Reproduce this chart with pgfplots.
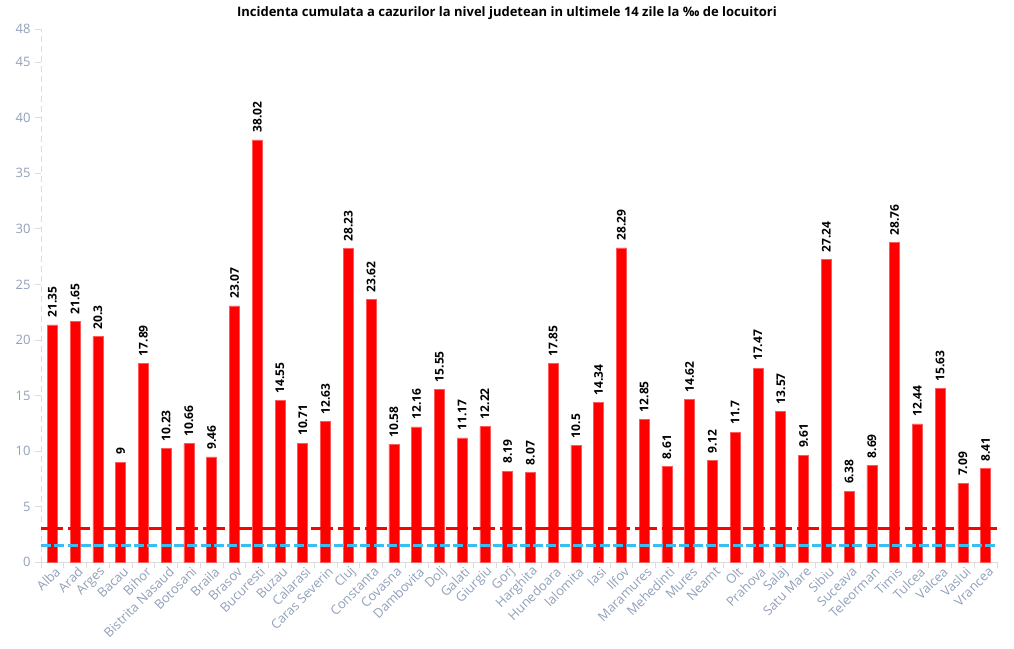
\documentclass[border=0pt]{standalone}
\usepackage{fontspec}
\setmainfont{Open Sans}
\usepackage{pgfplots}
\pgfplotsset{compat=1.18}
\usepackage{pgfplotstable}
\definecolor{tickgray}{RGB}{145,160,185}
\definecolor{axgray}{RGB}{220,220,220}
\definecolor{lineblue}{RGB}{56,190,240}
\definecolor{purered}{RGB}{255,0,0}
\definecolor{edgered}{RGB}{255,90,90}
\pgfplotstableread{
x y
0 21.35
1 21.65
2 20.3
3 9
4 17.89
5 10.23
6 10.66
7 9.46
8 23.07
9 38.02
10 14.55
11 10.71
12 12.63
13 28.23
14 23.62
15 10.58
16 12.16
17 15.55
18 11.17
19 12.22
20 8.19
21 8.07
22 17.85
23 10.5
24 14.34
25 28.29
26 12.85
27 8.61
28 14.62
29 9.12
30 11.7
31 17.47
32 13.57
33 9.61
34 27.24
35 6.38
36 8.69
37 28.76
38 12.44
39 15.63
40 7.09
41 8.41
}\data
\begin{document}
\begin{tikzpicture}
\useasboundingbox (0,0) rectangle (1014pt,648pt);
\node[font=\fontsize{13}{15}\selectfont\bfseries] at (507pt,635pt) {Incidenta cumulata a cazurilor la nivel judetean in ultimele 14 zile la ‰ de locuitori};
\begin{axis}[
  at={(41pt,86pt)}, anchor=south west,
  scale only axis, width=956pt, height=533pt,
  xmin=-0.5, xmax=41.5, ymin=0, ymax=48,
  /pgf/number format/assume math mode=true,
  axis x line*=bottom, axis y line*=left,
  x axis line style={axgray, line width=0.8pt, -},
  y axis line style={axgray, line width=1pt, dash pattern=on 6pt off 4pt, -},
  ytick={0,5,10,15,20,25,30,35,40,45,48},
  yticklabel style={font=\fontsize{13}{15}\selectfont, text=tickgray, xshift=-1pt},
  ytick style={draw=axgray, line width=0.8pt},
  major tick length=6pt,
  tick align=outside,
  xtick={-0.5,0.5,...,41.5},
  xticklabels={},
  xtick style={draw=axgray, line width=0.8pt},
  extra x ticks={0,1,...,41},
  extra x tick labels={Alba,Arad,Arges,Bacau,Bihor,Bistrita Nasaud,Botosani,Braila,Brasov,Bucuresti,Buzau,Calarasi,Caras Severin,Cluj,Constanta,Covasna,Dambovita,Dolj,Galati,Giurgiu,Gorj,Harghita,Hunedoara,Ialomita,Iasi,Ilfov,Maramures,Mehedinti,Mures,Neamt,Olt,Prahova,Salaj,Satu Mare,Sibiu,Suceava,Teleorman,Timis,Tulcea,Valcea,Vaslui,Vrancea},
  extra x tick style={major tick length=0pt, xticklabel style={font=\fontsize{13}{15}\selectfont, text=tickgray, rotate=45, anchor=east, yshift=-9pt, xshift=2pt}},
  clip=false,
]
\addplot[ybar, bar width=10pt, fill=purered, draw=edgered, line width=0.6pt,
  nodes near coords,
  nodes near coords style={font=\fontsize{12}{14}\selectfont\bfseries, text=black, rotate=90, anchor=west, inner xsep=7pt},
] table[x=x,y=y] {\data};
\addplot[draw=purered, color=purered, line width=3pt, dash pattern=on 22pt off 5pt, forget plot] coordinates {(-0.5,3) (41.5,3)};
\addplot[draw=lineblue, line width=3pt, dash pattern=on 10pt off 3.3pt, forget plot] coordinates {(-0.5,1.5) (41.5,1.5)};
\end{axis}
\end{tikzpicture}
\end{document}
